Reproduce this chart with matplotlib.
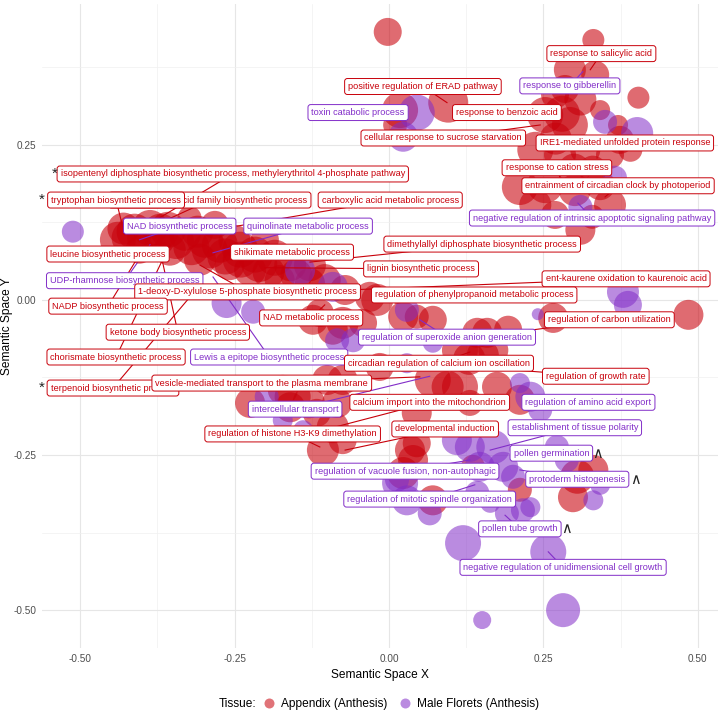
import matplotlib
matplotlib.use('Agg')
import matplotlib.pyplot as plt
from matplotlib.lines import Line2D

plt.rcParams['font.family'] = ['Liberation Sans', 'DejaVu Sans']

# GO terms enriched in the appendix (semantic space x / y, bubble value)
appendix_x = [-0.002, 0.331, 0.293, 0.334, 0.269, 0.310, 0.253, 0.293, 0.342, 0.371,
              0.404, 0.374, 0.237, 0.277, 0.318, 0.358, 0.391, 0.253, 0.301, 0.342,
              0.212, 0.237, 0.358, 0.310, 0.269, 0.329, 0.096, 0.018, 0.010,
              0.280, 0.300, 0.270, 0.330, 0.285,
              -0.439, -0.412, -0.387, -0.358, -0.331, -0.298, -0.274, -0.241, -0.217, -0.185,
              -0.160, -0.128, -0.404, -0.355, -0.306, -0.258, -0.225, -0.177, -0.104, -0.071,
              -0.201, -0.282, -0.323, -0.128, -0.371,
              -0.420, -0.395, -0.370, -0.345, -0.320, -0.290, -0.265, -0.240, -0.210, -0.195,
              -0.150, -0.430, -0.310, -0.250,
              -0.031, -0.019, -0.112, -0.075, -0.042, -0.123, -0.091, 0.023, 0.045, 0.071,
              0.143, 0.169, 0.159, 0.193, 0.266, 0.485, 0.115, 0.152, 0.071, 0.115,
              0.175, 0.212, -0.015, -0.100, -0.075, -0.156, -0.172, -0.084, -0.117, -0.107,
              -0.075, -0.091, -0.225, -0.160, 0.045, 0.039, 0.131, 0.045, 0.034, 0.023,
              0.071, 0.136, 0.212, 0.305, 0.331, 0.298, 0.130, 0.095, -0.130]
appendix_y = [0.432, 0.419, 0.371, 0.363, 0.331, 0.323, 0.298, 0.282, 0.306, 0.282,
              0.326, 0.258, 0.242, 0.234, 0.242, 0.234, 0.242, 0.185, 0.177, 0.185,
              0.182, 0.153, 0.153, 0.113, 0.137, 0.134, 0.318, 0.306, 0.282,
              0.300, 0.210, 0.260, 0.210, 0.340,
              0.097, 0.110, 0.116, 0.113, 0.105, 0.097, 0.089, 0.081, 0.073, 0.068,
              0.056, 0.056, 0.081, 0.081, 0.065, 0.056, 0.048, 0.032, 0.032, 0.016,
              0.097, 0.121, 0.132, 0.027, 0.097,
              0.100, 0.100, 0.110, 0.095, 0.085, 0.080, 0.070, 0.065, 0.058, 0.045,
              0.040, 0.115, 0.110, 0.095,
              0.005, 0.000, -0.021, -0.037, -0.037, -0.032, -0.048, -0.027, -0.027, -0.032,
              -0.053, -0.081, -0.053, -0.048, -0.029, -0.024, -0.081, -0.089, -0.129, -0.140,
              -0.140, -0.161, -0.108, -0.129, -0.129, -0.156, -0.145, -0.166, -0.182, -0.242,
              -0.226, -0.205, -0.166, -0.173, -0.231, -0.258, -0.166, -0.182, -0.242, -0.279,
              -0.323, -0.269, -0.306, -0.285, -0.274, -0.318, -0.095, -0.140, -0.165]
appendix_val = [14, 11, 16, 14, 14, 16, 18, 18, 10, 10,
                11, 14, 18, 16, 15, 14, 12, 18, 16, 15,
                18, 16, 16, 15, 14, 12, 20, 18, 12,
                18, 16, 16, 14, 14,
                18, 18, 18, 18, 16, 18, 18, 18, 18, 18,
                16, 16, 14, 16, 16, 15, 16, 15, 16, 15,
                14, 14, 12, 15, 15,
                18, 18, 18, 18, 18, 18, 18, 18, 18, 16,
                16, 16, 16, 16,
                15, 16, 14, 16, 14, 15, 15, 15, 12, 14,
                15, 15, 15, 14, 15, 15, 18, 16, 18, 18,
                15, 15, 14, 15, 15, 18, 15, 15, 14, 16,
                14, 16, 15, 15, 14, 15, 13, 15, 15, 16,
                15, 12, 12, 17, 15, 15, 16, 16, 16]

# GO terms enriched in the male florets
florets_x = [-0.512, 0.350, 0.402, 0.045, 0.023, 0.366, 0.310, -0.144, -0.091, -0.263,
             -0.220, -0.058, 0.029, 0.071, -0.084, 0.379, 0.387, 0.241, 0.212, 0.229,
             0.245, -0.139, -0.198, -0.172, 0.018, 0.066, 0.131, 0.169, 0.147, 0.185,
             0.201, 0.229, 0.191, 0.217, 0.143, 0.164, 0.272, 0.331, 0.342, 0.288,
             0.120, 0.258, 0.282, 0.151, 0.029, 0.013, 0.110, 0.029]
florets_y = [0.110, 0.287, 0.269, 0.302, 0.263, 0.197, 0.150, 0.048, 0.021, -0.005,
             -0.019, -0.065, -0.016, -0.069, -0.065, 0.013, -0.008, -0.023, -0.134, -0.156,
             -0.177, -0.210, -0.156, -0.194, -0.295, -0.344, -0.237, -0.237, -0.269, -0.269,
             -0.285, -0.334, -0.344, -0.339, -0.311, -0.327, -0.237, -0.323, -0.298, -0.258,
             -0.392, -0.406, -0.500, -0.516, -0.323, -0.290, -0.226, -0.102]
florets_val = [11, 12, 16, 18, 15, 12, 12, 15, 15, 15,
               12, 12, 12, 10, 12, 16, 14, 6, 10, 15,
               12, 10, 12, 10, 18, 12, 15, 17, 15, 15,
               12, 10, 12, 12, 12, 10, 12, 10, 10, 12,
               18, 18, 17, 9, 15, 12, 15, 10]

# labelled terms: text, tissue ('A' appendix / 'M' male florets), term position
term_text = [
    "response to salicylic acid", "positive regulation of ERAD pathway",
    "response to gibberellin", "toxin catabolic process", "response to benzoic acid",
    "cellular response to sucrose starvation", "IRE1-mediated unfolded protein response",
    "response to cation stress", "entrainment of circadian clock by photoperiod",
    "negative regulation of intrinsic apoptotic signaling pathway",
    "isopentenyl diphosphate biosynthetic process, methylerythritol 4-phosphate pathway",
    "aromatic amino acid family biosynthetic process", "tryptophan biosynthetic process",
    "carboxylic acid metabolic process", "NAD biosynthetic process",
    "quinolinate metabolic process", "leucine biosynthetic process",
    "shikimate metabolic process", "dimethylallyl diphosphate biosynthetic process",
    "lignin biosynthetic process", "UDP-rhamnose biosynthetic process",
    "ent-kaurene oxidation to kaurenoic acid",
    "1-deoxy-D-xylulose 5-phosphate biosynthetic process", "NADP biosynthetic process",
    "regulation of phenylpropanoid metabolic process", "NAD metabolic process",
    "regulation of carbon utilization", "ketone body biosynthetic process",
    "regulation of superoxide anion generation", "chorismate biosynthetic process",
    "Lewis a epitope biosynthetic process", "circadian regulation of calcium ion oscillation",
    "regulation of growth rate", "terpenoid biosynthetic process",
    "vesicle-mediated transport to the plasma membrane",
    "calcium import into the mitochondrion", "intercellular transport",
    "regulation of amino acid export", "regulation of histone H3-K9 dimethylation",
    "developmental induction", "establishment of tissue polarity", "pollen germination",
    "regulation of vacuole fusion, non-autophagic", "protoderm histogenesis",
    "regulation of mitotic spindle organization", "pollen tube growth",
    "negative regulation of unidimensional cell growth",
]
term_tissue = ['A', 'A', 'M', 'M', 'A', 'A', 'A', 'A', 'A', 'M',
               'A', 'A', 'A', 'A', 'M', 'M', 'A', 'A', 'A', 'A',
               'M', 'A', 'A', 'A', 'A', 'A', 'A', 'A', 'M', 'A',
               'M', 'A', 'A', 'A', 'A', 'A', 'M', 'M', 'A', 'A',
               'M', 'M', 'M', 'M', 'M', 'M', 'M']
term_x = [0.326, 0.094, 0.314, 0.018, 0.229, 0.245, 0.342, 0.277, 0.350, 0.306,
          -0.404, -0.395, -0.428, -0.246, -0.404, -0.285, -0.363, -0.206, -0.128, -0.201,
          -0.387, -0.144, -0.306, -0.404, 0.010, -0.104, 0.204, -0.371, 0.050, -0.355,
          -0.285, 0.131, 0.164, -0.306, 0.050, -0.107, 0.066, 0.220, -0.112, -0.071,
          0.164, 0.277, 0.131, 0.212, 0.139, 0.188, 0.258]
term_y = [0.371, 0.318, 0.368, 0.290, 0.294, 0.282, 0.242, 0.197, 0.166, 0.156,
          0.113, 0.113, 0.105, 0.119, 0.097, 0.076, 0.092, 0.068, 0.061, 0.052,
          0.089, 0.013, 0.056, 0.073, -0.005, -0.008, -0.052, 0.081, -0.032, 0.089,
          0.037, -0.084, -0.110, 0.024, -0.124, -0.210, -0.123, -0.161, -0.237, -0.242,
          -0.242, -0.255, -0.258, -0.274, -0.298, -0.347, -0.406]

# where the repelled label boxes ended up
label_x = [0.344, 0.055, 0.293, -0.050, 0.191, 0.088, 0.382, 0.272, 0.371, 0.329,
           -0.253, -0.290, -0.442, 0.002, -0.339, -0.131, -0.455, -0.157, 0.151, 0.052,
           -0.428, 0.384, -0.229, -0.455, 0.138, -0.126, 0.357, -0.342, 0.094, -0.442,
           -0.194, 0.081, 0.335, -0.447, -0.206, 0.066, -0.152, 0.323, -0.156, 0.091,
           0.301, 0.263, 0.026, 0.305, 0.066, 0.212, 0.282]
label_y = [0.397, 0.344, 0.345, 0.302, 0.302, 0.261, 0.253, 0.213, 0.184, 0.132,
           0.203, 0.161, 0.161, 0.161, 0.119, 0.119, 0.074, 0.077, 0.090, 0.050,
           0.031, 0.034, 0.013, -0.010, 0.008, -0.029, -0.032, -0.052, -0.060, -0.092,
           -0.092, -0.102, -0.123, -0.142, -0.134, -0.165, -0.176, -0.165, -0.216, -0.208,
           -0.206, -0.247, -0.276, -0.289, -0.321, -0.369, -0.431]

# significance marks beside some labels
mark_text = ['*', '*', '*', '^', '^', '^']
mark_x = [-0.541, -0.562, -0.562, 0.337, 0.399, 0.287]
mark_y = [0.203, 0.161, -0.142, -0.247, -0.289, -0.369]

red = '#C8000A'
purple = '#822DC8'
colors = {'A': red, 'M': purple}


def bubble_area(vals):
    return [(1.44 * v) ** 2 for v in vals]


fig = plt.figure(figsize=(7.2, 7.12), dpi=100)
ax = fig.add_axes([0.0583, 0.0899, 0.939, 0.9045])

ax.scatter(appendix_x, appendix_y, s=bubble_area(appendix_val), color=red,
           alpha=0.58, linewidths=0, zorder=2)
ax.scatter(florets_x, florets_y, s=bubble_area(florets_val), color=purple,
           alpha=0.55, linewidths=0, zorder=2)

# segments first, then the label boxes on top of them
for i, txt in enumerate(term_text):
    c = colors[term_tissue[i]]
    ax.plot([label_x[i], term_x[i]], [label_y[i], term_y[i]], color=c, lw=0.8, zorder=3)
for i, txt in enumerate(term_text):
    c = colors[term_tissue[i]]
    ax.text(label_x[i], label_y[i], txt, color=c, fontsize=6.6, ha='center', va='center',
            zorder=4, bbox=dict(boxstyle='round,pad=0.38,rounding_size=0.3', fc='white',
                                ec=c, lw=0.7))

for m, mx, my in zip(mark_text, mark_x, mark_y):
    if m == '*':
        ax.text(mx, my, '*', fontsize=11, ha='center', va='center', color='#222222',
                zorder=5, clip_on=False)
    else:
        ax.text(mx, my, '\u2227', fontsize=10.5, ha='center', va='center', color='#222222',
                zorder=5, family='DejaVu Sans')

ax.set_xlim(-0.562, 0.533)
ax.set_ylim(-0.561, 0.477)
ax.set_xticks([-0.5, -0.25, 0, 0.25, 0.5])
ax.set_xticklabels(['-0.50', '-0.25', '0.00', '0.25', '0.50'])
ax.set_yticks([-0.5, -0.25, 0, 0.25])
ax.set_yticklabels(['-0.50', '-0.25', '0.00', '0.25'])
ax.set_xticks([-0.375, -0.125, 0.125, 0.375], minor=True)
ax.set_yticks([-0.375, -0.125, 0.125, 0.375], minor=True)
ax.grid(which='major', color='#E6E6E6', lw=0.8, zorder=0)
ax.grid(which='minor', color='#F0F0F0', lw=0.5, zorder=0)
ax.set_axisbelow(True)
for s in ax.spines.values():
    s.set_visible(False)
ax.tick_params(which='both', length=0, labelsize=7.2, labelcolor='#4D4D4D', pad=4)
ax.set_xlabel('Semantic Space X', fontsize=8.6, labelpad=4)
ax.set_ylabel('Semantic Space Y', fontsize=8.6)
ax.yaxis.set_label_coords(-0.043, 0.5)

handles = [Line2D([], [], marker='o', ls='', markersize=7.2, color=red, alpha=0.55, mec='none'),
           Line2D([], [], marker='o', ls='', markersize=7.2, color=purple, alpha=0.55, mec='none')]
fig.text(219 / 720, 1 - 704 / 712, 'Tissue:', fontsize=8.6, ha='left', va='center')
fig.legend(handles, ['Appendix (Anthesis)', 'Male Florets (Anthesis)'], ncol=2,
           frameon=False, fontsize=8.6, loc='center left',
           bbox_to_anchor=(263 / 720, 1 - 704 / 712), handlelength=1.0,
           handletextpad=0.5, columnspacing=1.0, borderpad=0, borderaxespad=0)

fig.savefig('out.png', dpi=100)
